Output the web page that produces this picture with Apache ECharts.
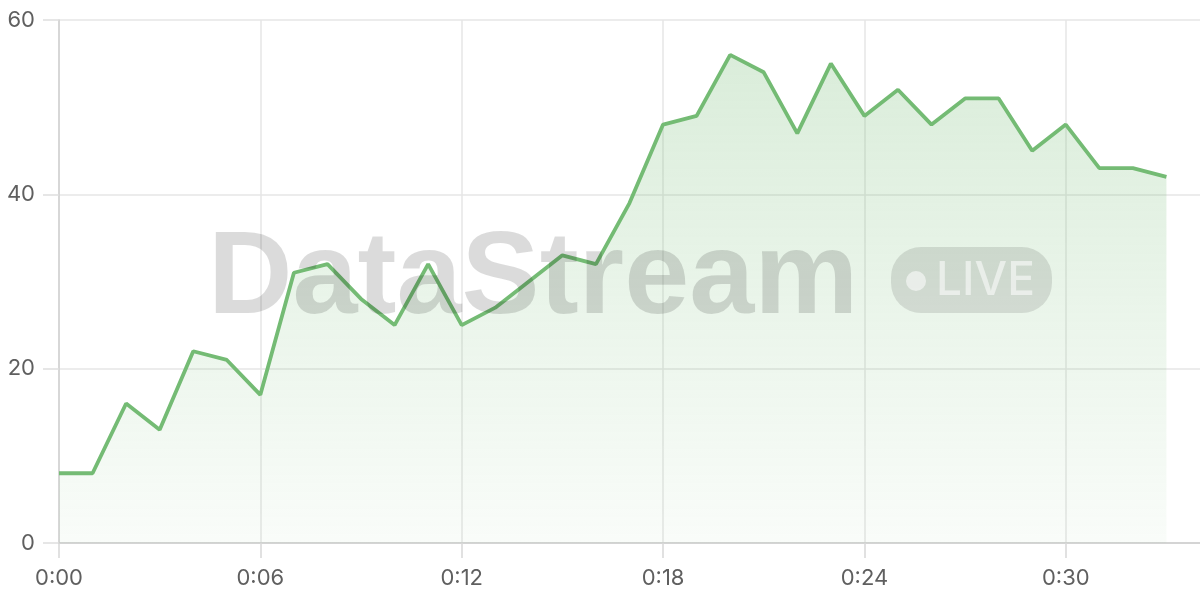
<!DOCTYPE html>
<html>
<head>
<meta charset="utf-8">
<script src="https://cdn.jsdelivr.net/npm/echarts@6/dist/echarts.min.js"></script>
<style>html,body{margin:0;padding:0;background:#fff}#c{width:1200px;height:600px}</style>
</head>
<body>
<div id="c"></div>
<script>
const categories = ['0:00','0:01','0:02','0:03','0:04','0:05','0:06','0:07','0:08','0:09','0:10','0:11','0:12','0:13','0:14','0:15','0:16','0:17','0:18','0:19','0:20','0:21','0:22','0:23','0:24','0:25','0:26','0:27','0:28','0:29','0:30','0:31','0:32','0:33','0:34'];
const values = [8,8,16,13,22,21,17,31,32,28,25,32,25,27,30,33,32,39,48,49,56,54,47,55,49,52,48,51,51,45,48,43,43,42];
const yTicks = [0,20,40,60];
const watermarkText = 'DataStream';
const badgeText = 'LIVE';

const chart = echarts.init(document.getElementById('c'), null, {renderer:'canvas'});
const lineColor = '#74bb74';
const labelFont = 'Inter, "Liberation Sans", Arial, sans-serif';
chart.setOption({
  animation:false,
  grid:{left:59,right:0,top:20,bottom:57},
  xAxis:{
    type:'category', data:categories, boundaryGap:false,
    axisLine:{lineStyle:{color:'#cccccc',width:1.5}},
    axisTick:{show:true,interval:5,length:15,lineStyle:{color:'#d8d8d8',width:1.5}},
    axisLabel:{interval:5,margin:24,color:'#5f5f5f',fontSize:22,fontFamily:labelFont},
    splitLine:{show:true,interval:5,lineStyle:{color:'#e6e6e6',width:1.5}}
  },
  yAxis:{
    type:'value', min:yTicks[0], max:yTicks[yTicks.length-1], interval:yTicks[1]-yTicks[0],
    axisLine:{show:true,lineStyle:{color:'#d0d0d0',width:1.5}},
    axisTick:{show:true,length:16,lineStyle:{color:'#dedede',width:1.5}},
    axisLabel:{margin:24,color:'#5f5f5f',fontSize:22,fontFamily:labelFont},
    splitLine:{lineStyle:{color:'#e6e6e6',width:1.5}}
  },
  series:[{
    type:'line', data:values, symbol:'none',
    lineStyle:{color:lineColor,width:3.8},
    areaStyle:{color:new echarts.graphic.LinearGradient(0,0,0,1,[
      {offset:0,color:'rgba(116,187,116,0.38)'},
      {offset:1,color:'rgba(116,187,116,0.06)'}
    ])}
  }],
  graphic:[
    {type:'text',z:100,left:208,top:222,style:{text:watermarkText,fill:'rgba(0,0,0,0.14)',font:'bold 117px "Liberation Sans", Arial, sans-serif'}},
    {type:'rect',z:100,shape:{x:891,y:247,width:161,height:66,r:30},style:{fill:'rgba(0,0,0,0.11)'}},
    {type:'circle',z:101,shape:{cx:916,cy:281,r:10},style:{fill:'rgba(255,255,255,0.55)'}},
    {type:'text',z:101,left:936,top:258,style:{text:badgeText,fill:'rgba(255,255,255,0.55)',font:'500 46px Inter, "Liberation Sans", Arial, sans-serif'}}
  ]
});
</script>
</body>
</html>
